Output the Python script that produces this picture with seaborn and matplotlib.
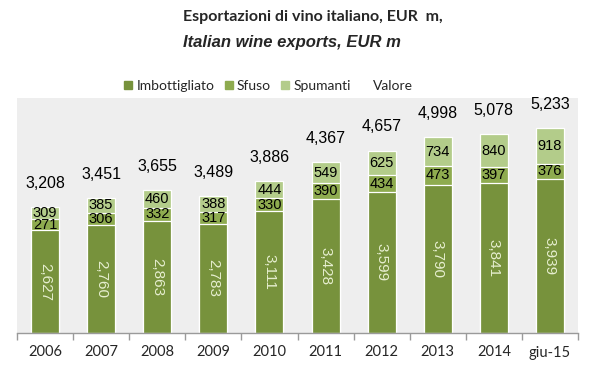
import numpy as np
import pandas as pd
import matplotlib
matplotlib.use("Agg")
import matplotlib.pyplot as plt
import seaborn as sns
from matplotlib.lines import Line2D

years = ["2006", "2007", "2008", "2009", "2010", "2011", "2012", "2013", "2014", "giu-15"]
imbottigliato = [2627, 2760, 2863, 2783, 3111, 3428, 3599, 3790, 3841, 3939]
sfuso = [271, 306, 332, 317, 330, 390, 434, 473, 397, 376]
spumanti = [309, 385, 460, 388, 444, 549, 625, 734, 840, 918]
valore = [3208, 3451, 3655, 3489, 3886, 4367, 4657, 4998, 5078, 5233]

C_IMB = "#77923c"
C_SFU = "#8eab4f"
C_SPU = "#b3cc8a"
BG = "#eeeeee"

df = pd.DataFrame({"anno": years, "imb": imbottigliato, "sfu": sfuso, "spu": spumanti, "val": valore})
df["lvl2"] = df["imb"] + df["sfu"]
df["lvl3"] = df["lvl2"] + df["spu"]

sns.set_theme(style="white")
plt.rcParams["font.family"] = ["Liberation Sans", "DejaVu Sans"]

fig = plt.figure(figsize=(5.99, 3.8), dpi=100)
ax = fig.add_axes([17 / 599, 47 / 380, 561 / 599, 235 / 380])
ax.set_facecolor(BG)

bar_kw = dict(x="anno", order=years, width=0.5, saturation=1, edgecolor="white", linewidth=0.9, ax=ax)
sns.barplot(data=df, y="lvl3", color=C_SPU, **bar_kw)
sns.barplot(data=df, y="lvl2", color=C_SFU, **bar_kw)
sns.barplot(data=df, y="imb", color=C_IMB, **bar_kw)

ax.set_ylim(0, 6000)
ax.set_xlim(-0.5, len(years) - 0.5)
ax.set_yticks([])
ax.set_xlabel("")
ax.set_ylabel("")
for s in ["top", "left", "right"]:
    ax.spines[s].set_visible(False)
ax.spines["bottom"].set_color("#9a9a9a")
ax.spines["bottom"].set_linewidth(1)

ax.set_xticks(np.arange(len(years)))
ax.set_xticklabels(years, family=["Lato", "DejaVu Sans"], fontsize=10.5)
ax.tick_params(axis="x", which="major", length=0, pad=9, bottom=True)
ax.set_xticks(np.arange(-0.5, len(years)), minor=True)
ax.tick_params(axis="x", which="minor", length=5, color="#9a9a9a", width=1, bottom=True, direction="out")

for i, row in df.iterrows():
    ax.text(i, row["imb"] / 2, f"{row['imb']:,}", rotation=-90, ha="center", va="center",
            color="#e6eecf", fontsize=11)
    ax.text(i, row["imb"] + row["sfu"] / 2, f"{row['sfu']:,}", ha="center", va="center",
            color="black", fontsize=10.5)
    ax.text(i, row["lvl2"] + row["spu"] / 2, f"{row['spu']:,}", ha="center", va="center",
            color="black", fontsize=10.5)
    ax.annotate(f"{row['val']:,}", (i, row["val"]), xytext=(0, 17), textcoords="offset points",
                ha="center", va="center", fontsize=11.5, color="black")

fig.text(183 / 599, 1 - 17 / 380, "Esportazioni di vino italiano, EUR  m,", ha="left", va="center",
         fontsize=11.5, fontweight="bold", family=["Lato", "DejaVu Sans"])
fig.text(183 / 599, 1 - 42 / 380, "Italian wine exports, EUR m", ha="left", va="center",
         fontsize=12, fontweight="bold", style="italic", family=["Liberation Sans", "DejaVu Sans"])

handles = [
    Line2D([], [], marker="s", linestyle="none", markersize=5.5, color=C_IMB),
    Line2D([], [], marker="s", linestyle="none", markersize=5.5, color=C_SFU),
    Line2D([], [], marker="s", linestyle="none", markersize=5.5, color=C_SPU),
    Line2D([], [], marker="s", linestyle="none", markersize=5.5, color="none"),
]
fig.legend(handles, ["Imbottigliato", "Sfuso", "Spumanti", "Valore"], ncol=4, loc="center",
           bbox_to_anchor=(269 / 599, 1 - 86 / 380), frameon=False, handlelength=0.5,
           handletextpad=0.35, columnspacing=0.75, prop={"family": "Lato", "size": 10})

fig.savefig("out.png", dpi=100, facecolor="white")
